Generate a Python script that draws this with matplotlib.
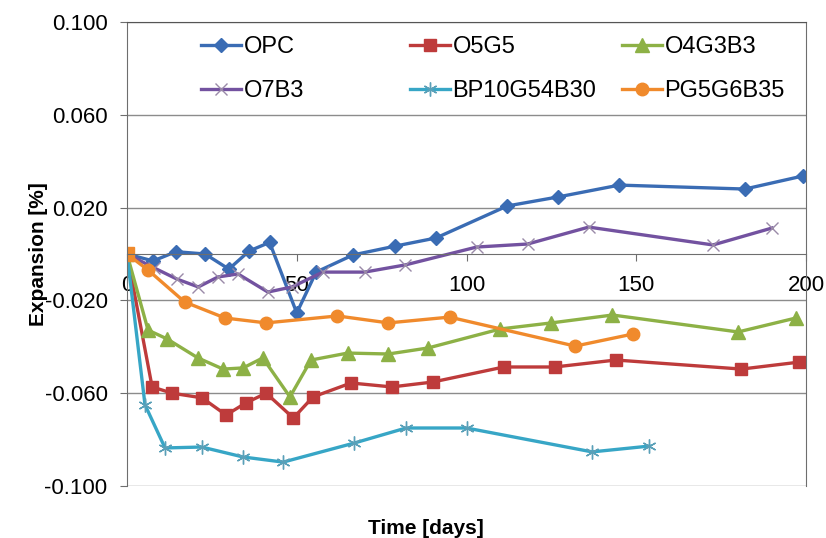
import matplotlib.pyplot as plt
import numpy as np

plt.rcParams['font.family'] = ['Liberation Sans', 'DejaVu Sans']

# 数据: 时间 [days] 与膨胀率 [%]
opc_x = [0, 7.7, 14.4, 23, 30, 36, 42, 50, 55.7, 66.6, 79, 91, 112, 127, 145, 182, 199]
opc_y = [0, -0.003, 0.001, 0.0, -0.0065, 0.0013, 0.005, -0.0254, -0.0078, -0.0004,
         0.0034, 0.0069, 0.0207, 0.0246, 0.0297, 0.028, 0.0336]

o5g5_x = [0, 7.4, 13.3, 22.1, 29.2, 35, 41, 49, 54.8, 66, 78, 90, 111, 126, 144, 181, 198]
o5g5_y = [0, -0.0573, -0.060, -0.062, -0.0694, -0.0642, -0.060, -0.0707, -0.0616,
          -0.0556, -0.0573, -0.0552, -0.0487, -0.0487, -0.0457, -0.0496, -0.0466]

o4g3b3_x = [0, 6.2, 11.8, 20.9, 28.3, 34.2, 40, 48, 54.2, 65, 77, 88.7, 110, 125, 143, 180, 197]
o4g3b3_y = [0, -0.0328, -0.0366, -0.0448, -0.0496, -0.0491, -0.0448, -0.0616, -0.0457,
            -0.0427, -0.0431, -0.0405, -0.0323, -0.0297, -0.0263, -0.0336, -0.0276]

o7b3_x = [0, 8, 14.7, 21, 26.8, 32.7, 41.5, 48.6, 57.7, 70, 82, 103, 118, 136, 172.6, 190]
o7b3_y = [0, -0.006, -0.0108, -0.0142, -0.0099, -0.0086, -0.0164, -0.0142, -0.0078,
          -0.0078, -0.0047, 0.003, 0.0043, 0.0116, 0.0039, 0.0112]

bp_x = [0, 5.3, 11.2, 22, 34.2, 46, 66.9, 82.2, 100, 137, 153.8]
bp_y = [0, -0.065, -0.0836, -0.0832, -0.0875, -0.0897, -0.0815, -0.075, -0.075, -0.0853, -0.0828]

pg_x = [0, 6.2, 17, 28.9, 41, 62, 77, 95, 132, 149]
pg_y = [0, -0.0069, -0.0207, -0.0276, -0.0297, -0.0267, -0.0297, -0.0272, -0.0397, -0.0345]

y_ticks = [-0.1, -0.06, -0.02, 0.02, 0.06, 0.1]
x_ticks = [0, 50, 100, 150, 200]

fig = plt.figure(figsize=(8.26, 5.38), dpi=100)
ax = fig.add_axes([127 / 826, 52 / 538, 679 / 826, 464 / 538])

lw = 2.4
l1, = ax.plot(opc_x, opc_y, color='#3a6cb4', lw=lw, marker='D', ms=7.5, label='OPC')
l2, = ax.plot(o5g5_x, o5g5_y, color='#be3b3b', lw=lw, marker='s', ms=9, label='O5G5')
l3, = ax.plot(o4g3b3_x, o4g3b3_y, color='#8db146', lw=lw, marker='^', ms=9.5, label='O4G3B3')
l4, = ax.plot(o7b3_x, o7b3_y, color='#7352a0', lw=lw, marker='x', ms=9, mew=1.0,
              mec='#9a8aa8', label='O7B3')
l5, = ax.plot(bp_x, bp_y, color='#37a6c6', lw=lw, marker=(6, 2, 0), ms=10, mew=1.0,
              mec='#5aa0b8', label='BP10G54B30')
l6, = ax.plot(pg_x, pg_y, color='#f08a2c', lw=lw, marker='o', ms=9, label='PG5G6B35')
# 第一个点被橙色覆盖
ax.plot([0], [0], marker='s', ms=10, color='#f08a2c', lw=0)

# x轴移到 y=0 (先移动, 否则刻度会被重置)
ax.spines['bottom'].set_position(('data', 0))
ax.spines['bottom'].set_color('#6e6e6e')
ax.spines['left'].set_color('#6e6e6e')
ax.spines['right'].set_color('#6e6e6e')
ax.spines['top'].set_color('#555555')

ax.set_xlim(0, 200)
ax.set_ylim(-0.1, 0.1)
ax.set_yticks(y_ticks)
ax.set_yticklabels(['%.3f' % v for v in y_ticks])
ax.set_xticks(x_ticks)
ax.set_xticklabels([str(v) for v in x_ticks])
ax.tick_params(axis='x', direction='out', length=5, pad=10, color='#6e6e6e', labelsize=16)
ax.tick_params(axis='y', direction='out', length=5, pad=9, color='#6e6e6e', labelsize=16)

# 横向网格线
for v in y_ticks:
    ax.axhline(v, color='#8c8c8c', lw=1.0, zorder=0)

ax.set_ylabel('Expansion [%]', fontsize=15, fontweight='bold')
ax.yaxis.set_label_coords(-0.116, 0.5)
fig.text(426 / 826, 1 - 529 / 538, 'Time [days]', fontsize=15, fontweight='bold',
         ha='center', va='center')

# 图例: 三列，每列两行
cols = [[l1, l4], [l2, l5], [l3, l6]]
col_x = [201, 410, 622]
for i, (handles, cx) in enumerate(zip(cols, col_x)):
    leg = ax.legend(handles=handles, loc='upper left', frameon=False, fontsize=17,
                    bbox_to_anchor=((cx - 127) / 679, 1 - 14 / 464),
                    borderpad=0, borderaxespad=0, handlelength=1.7,
                    handletextpad=0.1, labelspacing=0.95)
    if i < 2:
        ax.add_artist(leg)

plt.savefig('out.png', dpi=100)
